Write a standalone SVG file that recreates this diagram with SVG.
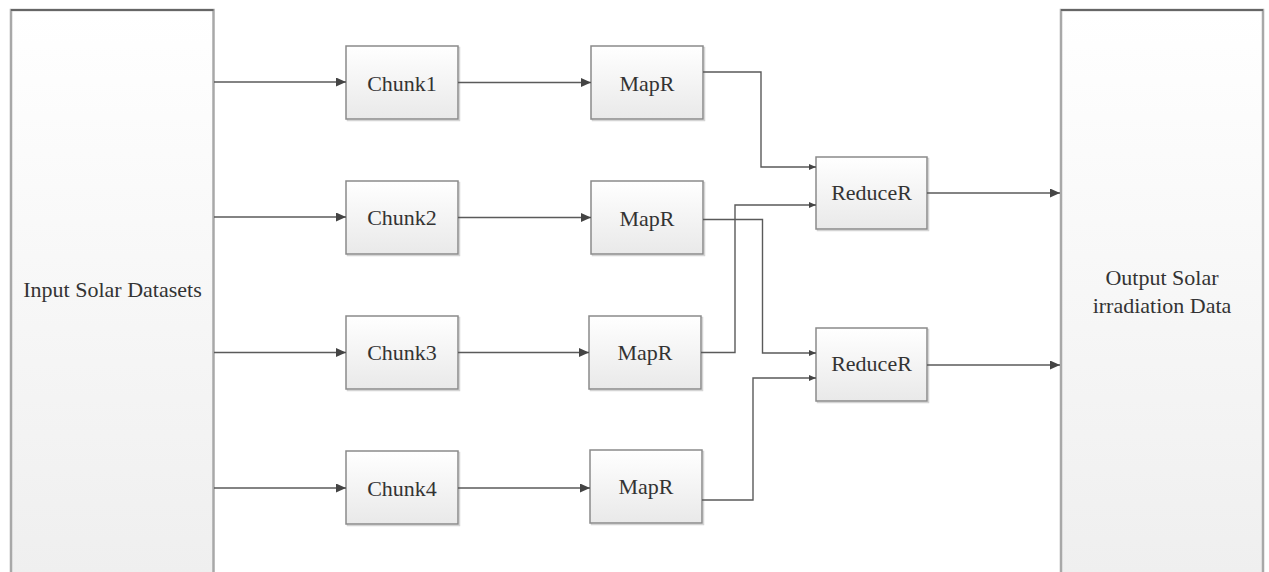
<svg xmlns="http://www.w3.org/2000/svg" width="1269" height="572" viewBox="0 0 1269 572">
  <style>
    .box { fill: url(#boxFill); stroke: #8a8a8a; stroke-width: 1.5; }
    .shadow { fill: none; stroke: #d4d4d4; stroke-width: 1.5; }
    .big { fill: url(#bigFill); stroke: #a8a8a8; stroke-width: 2.5; }
    .bigTop { stroke: #505050; stroke-width: 1.5; }
    .label { font-family: "Liberation Serif", "Times New Roman", serif; font-size: 22px; fill: #333; text-anchor: middle; }
    .wire { fill: none; stroke: #5a5a5a; stroke-width: 1.4; }
    .arrow { marker-end: url(#head); }
    .arrowSmall { marker-end: url(#headSmall); }
  </style>
  <defs>
    <linearGradient id="boxFill" x1="0" y1="0" x2="0" y2="1">
      <stop offset="0" stop-color="#ffffff"/>
      <stop offset="1" stop-color="#e9e9e9"/>
    </linearGradient>
    <linearGradient id="bigFill" x1="0" y1="0" x2="0" y2="1">
      <stop offset="0" stop-color="#ffffff"/>
      <stop offset="1" stop-color="#eeeeee"/>
    </linearGradient>
    <marker id="head" markerUnits="userSpaceOnUse" markerWidth="11" markerHeight="9" refX="10" refY="4.5" orient="auto">
      <path d="M0,0 L10,4.5 L0,9 z" fill="#444"/>
    </marker>
    <marker id="headSmall" markerUnits="userSpaceOnUse" markerWidth="8" markerHeight="7" refX="7" refY="3" orient="auto">
      <path d="M0,0 L7,3 L0,6 z" fill="#444"/>
    </marker>
  </defs>

  <rect width="1269" height="572" fill="#ffffff"/>

  <!-- source and sink panels -->
  <g id="input">
    <rect class="big" x="11" y="10" width="202.5" height="600"/>
    <line class="bigTop" x1="11" y1="10" x2="213.5" y2="10"/>
    <text class="label" x="112.5" y="297">Input Solar Datasets</text>
  </g>
  <g id="output">
    <rect class="big" x="1061" y="10" width="202" height="600"/>
    <line class="bigTop" x1="1061" y1="10" x2="1263" y2="10"/>
    <text class="label" x="1162" y="285">Output Solar</text>
    <text class="label" x="1162" y="313">irradiation Data</text>
  </g>

  <!-- chunks -->
  <g id="chunk1">
    <rect class="shadow" x="347.5" y="47.5" width="112" height="73"/>
    <rect class="box" x="346" y="46" width="112" height="73"/>
    <text class="label" x="402" y="91">Chunk1</text>
  </g>
  <g id="chunk2">
    <rect class="shadow" x="347.5" y="182.5" width="112" height="73"/>
    <rect class="box" x="346" y="181" width="112" height="73"/>
    <text class="label" x="402" y="225">Chunk2</text>
  </g>
  <g id="chunk3">
    <rect class="shadow" x="347.5" y="317.5" width="112" height="73"/>
    <rect class="box" x="346" y="316" width="112" height="73"/>
    <text class="label" x="402" y="360">Chunk3</text>
  </g>
  <g id="chunk4">
    <rect class="shadow" x="347.5" y="452.5" width="112" height="73"/>
    <rect class="box" x="346" y="451" width="112" height="73"/>
    <text class="label" x="402" y="496">Chunk4</text>
  </g>

  <!-- map tasks -->
  <g id="map1">
    <rect class="shadow" x="592.5" y="47.5" width="112" height="73"/>
    <rect class="box" x="591" y="46" width="112" height="73"/>
    <text class="label" x="647" y="91">MapR</text>
  </g>
  <g id="map2">
    <rect class="shadow" x="592.5" y="182.5" width="112" height="73"/>
    <rect class="box" x="591" y="181" width="112" height="73"/>
    <text class="label" x="647" y="226">MapR</text>
  </g>
  <g id="map3">
    <rect class="shadow" x="590.5" y="317.5" width="112" height="73"/>
    <rect class="box" x="589" y="316" width="112" height="73"/>
    <text class="label" x="645" y="360">MapR</text>
  </g>
  <g id="map4">
    <rect class="shadow" x="591.5" y="451.5" width="112" height="73"/>
    <rect class="box" x="590" y="450" width="112" height="73"/>
    <text class="label" x="646" y="494">MapR</text>
  </g>

  <!-- reduce tasks -->
  <g id="reduce1">
    <rect class="shadow" x="817.5" y="158.5" width="111" height="72"/>
    <rect class="box" x="816" y="157" width="111" height="72"/>
    <text class="label" x="871.5" y="200">ReduceR</text>
  </g>
  <g id="reduce2">
    <rect class="shadow" x="817.5" y="329.5" width="111" height="73"/>
    <rect class="box" x="816" y="328" width="111" height="73"/>
    <text class="label" x="871.5" y="371">ReduceR</text>
  </g>

  <!-- connectors -->
  <g id="connectors">
    <path class="wire arrow" d="M214,82 H346"/>
    <path class="wire arrow" d="M214,217 H346"/>
    <path class="wire arrow" d="M214,352.5 H346"/>
    <path class="wire arrow" d="M214,488 H346"/>

    <path class="wire arrow" d="M458,82.5 H591"/>
    <path class="wire arrow" d="M458,217.5 H591"/>
    <path class="wire arrow" d="M458,352.5 H589"/>
    <path class="wire arrow" d="M458,488 H590"/>

    <path class="wire arrowSmall" d="M703,72 H761 V167 H816"/>
    <path class="wire arrowSmall" d="M703,219.5 H762.5 V353 H816"/>
    <path class="wire arrowSmall" d="M701,352.5 H735 V205 H816"/>
    <path class="wire arrowSmall" d="M702,500 H753 V378 H816"/>

    <path class="wire arrow" d="M927,193 H1060"/>
    <path class="wire arrow" d="M927,365 H1060"/>
  </g>
</svg>
